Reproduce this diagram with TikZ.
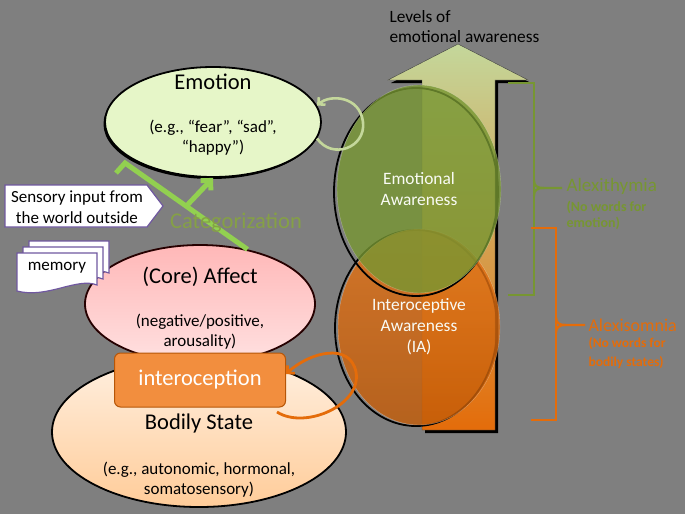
\documentclass[tikz,border=0pt]{standalone}
\usepackage{fontspec}
\setmainfont{Carlito}
\usetikzlibrary{shapes.geometric,arrows.meta,calc,shadows}

\definecolor{bggray}{RGB}{127,127,127}
\definecolor{palegreen}{RGB}{196,215,155}
\definecolor{olivegreen}{RGB}{119,150,50}
\definecolor{catgreen}{RGB}{146,208,80}
\definecolor{emofill}{RGB}{230,246,200}
\definecolor{iaorange}{RGB}{228,108,10}
\definecolor{introfill}{RGB}{242,142,62}
\definecolor{docpurple}{RGB}{112,88,160}

\tikzset{
  titletext/.style={font=\fontsize{22.5}{26}\selectfont},
  subtext/.style={font=\fontsize{17}{20}\selectfont, align=center},
  awaretext/.style={font=\fontsize{17.4}{21}\selectfont, align=center, text=white!90!palegreen},
  brace/.style={line width=2.2pt},
  doc/.style={draw=docpurple, line width=1.2pt, fill=white},
}

\begin{document}
\begin{tikzpicture}[x=1pt,y=-1pt]
    % background
    \fill[bggray] (0,0) rectangle (685,514);
    \useasboundingbox (0,0) rectangle (685,514);

    % levels of awareness
    \node[anchor=west, align=left, font=\fontsize{17.3}{20}\selectfont] (levels) at (386,27) {Levels of\\emotional awareness};
    \fill[black, shift={(3,3)}] (458,44) -- (528,80) -- (495,80) -- (495,430) -- (422,430) -- (422,80) -- (388,80) -- cycle;
    \shade[top color=palegreen, middle color=palegreen!55!iaorange, bottom color=iaorange, draw=black!75, thin]
      (458,44) -- (528,80) -- (495,80) -- (495,430) -- (422,430) -- (422,80) -- (388,80) -- cycle;

    % awareness ellipses
    \draw[black, line width=1.8pt] (416,328) ellipse [x radius=81, y radius=98];
    \node[ellipse, minimum width=162pt, minimum height=196pt, inner sep=0pt, outer sep=0pt,
      top color=iaorange!95!white, bottom color=iaorange!85!black, fill opacity=0.82, text opacity=1,
      draw=white, draw opacity=0.35, awaretext] (ia) at (419,327) {Interoceptive\\Awareness\\(IA)};
    \draw[black, line width=1.8pt] (416,192) ellipse [x radius=82, y radius=104];
    \node[ellipse, minimum width=164pt, minimum height=208pt, inner sep=0pt, outer sep=0pt,
      fill=olivegreen, fill opacity=0.8, text opacity=1,
      draw=white, draw opacity=0.3, awaretext] (emoaware) at (419,189) {Emotional\\Awareness};

    % brackets
    \draw[brace, olivegreen] (508,83) -- (534,83) -- (534,295) -- (508,295);
    \draw[brace, olivegreen] (534,180) .. controls (534,186) and (537,188) .. (544,188) -- (562,188);
    \draw[brace, olivegreen] (534,196) .. controls (534,190) and (537,188) .. (544,188);
    \node[anchor=west, text=olivegreen, font=\fontsize{19}{22}\selectfont] (alexithymia) at (563,186) {Alexithymia};
    \node[anchor=west, align=left, text=olivegreen, font=\fontsize{14}{16}\bfseries\selectfont] (nowordsemo) at (563,215) {(No words for\\emotion)};

    \draw[brace, iaorange] (531,228) -- (556,228) -- (556,420) -- (531,420);
    \draw[brace, iaorange] (556,317) .. controls (556,323) and (559,325) .. (566,325) -- (585,325);
    \draw[brace, iaorange] (556,333) .. controls (556,327) and (559,325) .. (566,325);
    \node[anchor=west, text=iaorange, font=\fontsize{18}{20}\selectfont] (alexisomnia) at (585,325) {Alexisomnia};
    \node[anchor=west, align=left, text=iaorange, font=\fontsize{13.5}{18.5}\bfseries\selectfont] (nowordsbody) at (585,353) {(No words for\\bodily states)};

    % emotion
    \node[ellipse, minimum width=216pt, minimum height=110pt, inner sep=0pt, fill=emofill, draw=black, line width=1.8pt,
      drop shadow={shadow xshift=-1.5pt, shadow yshift=-2pt, opacity=1, fill=black}] (emotion) at (213,122) {};
    \node[titletext] (emotitle) at (213,82) {Emotion};
    \node[subtext] (emoeg) at (213,138) {(e.g., “fear”, “sad”,\\“happy”)};
    \draw[palegreen, line width=2.6pt, -{Straight Barb[length=5pt,width=10pt]}]
      (emotion.-9) .. controls (332,160) and (366,148) .. (363,122) .. controls (360,96) and (330,94) .. (emotion.9);

    % bodily state and core affect
    \node[ellipse, minimum width=294pt, minimum height=150pt, inner sep=0pt, top color=orange!12!white, bottom color=orange!40!white,
      draw=black, line width=1.8pt] (body) at (199,432) {};
    \node[titletext] (bodytitle) at (199,423) {Bodily State};
    \node[subtext] (bodyeg) at (199,480) {(e.g., autonomic, hormonal,\\somatosensory)};

    \node[ellipse, minimum width=230pt, minimum height=118pt, inner sep=0pt, top color=red!28!white, bottom color=red!12!white,
      draw=black!85!red, line width=1.8pt] (affect) at (200,304) {};
    \node[titletext] (affecttitle) at (200,277) {(Core) Affect};
    \node[subtext] (affecteg) at (200,332) {(negative/positive,\\arousality)};

    \node[rectangle, rounded corners=6pt, minimum width=171pt, minimum height=54pt, fill=introfill, draw=iaorange!80!black,
      line width=1pt, titletext, text=white] (intero) at (200,380) {interoception};

    % sensory input and memory
    \draw[doc] (5,185) -- (147,185) -- (163,206) -- (147,227) -- (5,227) -- cycle;
    \node[subtext, font=\fontsize{17}{20.5}\selectfont] (sensory) at (77,207) {Sensory input from\\the world outside};
    \draw[doc] (29,241) -- (109,241) -- (109,273) .. controls (89,265) and (59,287) .. (29,279) -- cycle;
    \draw[doc] (23,247) -- (103,247) -- (103,279) .. controls (83,271) and (53,293) .. (23,285) -- cycle;
    \draw[doc] (17,253) -- (97,253) -- (97,285) .. controls (77,277) and (47,299) .. (17,291) -- cycle;
    \node[subtext] (memory) at (57,268) {memory};

    % categorization
    \coordinate (catbend) at (125,163);
    \coordinate (cattail) at (116,173);
    \draw[catgreen, line width=5pt, line join=miter] (affect.49) -- (catbend) -- (cattail);
    \draw[catgreen, line width=5pt, -{Straight Barb[length=7pt,width=14pt]}] ($(affect.49)!0.5!(catbend)$) -- (emotion.south);
    \node[text=olivegreen!90!white, font=\fontsize{22.5}{26}\selectfont] (catlabel) at (236,223) {Categorization};

    % interoceptive loop
    \coordinate (loopstart) at (277,412);
    \draw[iaorange, line width=2.8pt, -{Straight Barb[length=5pt,width=11pt]}]
      (loopstart) .. controls (305,430) and (362,405) .. (356,372) .. controls (350,342) and (310,352) .. (intero.4);
\end{tikzpicture}
\end{document}
